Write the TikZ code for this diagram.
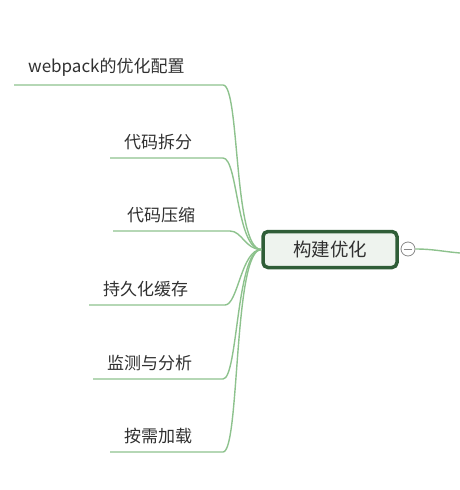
\documentclass[tikz,border=0pt]{standalone}
\usepackage{fontspec}
\setmainfont{Noto Sans CJK SC}
\usepackage{tikz}
\usetikzlibrary{positioning}
\definecolor{linkgreen}{HTML}{8DC28D}
\definecolor{rootgreen}{HTML}{2F5D37}
\definecolor{rootfill}{HTML}{EEF3EE}
\definecolor{labelgray}{HTML}{303030}
\definecolor{foldgray}{HTML}{888888}

\begin{document}
\begin{tikzpicture}[x=1pt,y=-1pt,
    topic/.style={shape=rectangle, anchor=south west, inner xsep=14pt, inner ysep=8pt,
      font=\fontsize{17}{17}\selectfont, text=labelgray},
    link/.style={draw=linkgreen, line width=1.4pt}]
    \useasboundingbox (0,0) rectangle (460,490);

    \node[shape=rectangle, rounded corners=5pt, draw=rootgreen, line width=3.5pt, fill=rootfill,
      minimum width=134pt, minimum height=36pt, text=labelgray,
      font=\fontsize{18.5}{18.5}\selectfont] (root) at (330,249.5) {构建优化};

    \node[shape=circle, draw=foldgray, line width=0.8pt, minimum size=14pt, inner sep=0pt] (fold) at (408,249) {};
    \draw[foldgray, line width=0.8pt] ([xshift=3pt]fold.west) -- ([xshift=-3pt]fold.east);
    \coordinate (tail) at (460,253);
    \path[link] (fold.east) edge[out=0, in=175] (tail);

    \node[topic] (webpack) at (14,85) {webpack的优化配置};
    \coordinate (webpackend) at (223,85);
    \draw[link] (webpack.south west) -- (webpackend) .. controls +(17,0) and +(-28,0) .. (root.west);

    \node[topic] (split) at (110,158) {代码拆分};
    \coordinate (splitend) at (223,158);
    \draw[link] (split.south west) -- (splitend) .. controls +(15,0) and +(-25,0) .. (root.west);

    \node[topic] (minify) at (113,231) {代码压缩};
    \coordinate (minifyend) at (230,231);
    \draw[link] (minify.south west) -- (minifyend) .. controls +(12,0) and +(-16,0) .. (root.west);

    \node[topic] (cache) at (89,305) {持久化缓存};
    \coordinate (cacheend) at (225,305);
    \draw[link] (cache.south west) -- (cacheend) .. controls +(13,0) and +(-20,0) .. (root.west);

    \node[topic] (monitor) at (93,379) {监测与分析};
    \coordinate (monitorend) at (223,379);
    \draw[link] (monitor.south west) -- (monitorend) .. controls +(15,0) and +(-25,0) .. (root.west);

    \node[topic] (lazy) at (110,452) {按需加载};
    \coordinate (lazyend) at (223,452);
    \draw[link] (lazy.south west) -- (lazyend) .. controls +(17,0) and +(-28,0) .. (root.west);

  \end{tikzpicture}
\end{document}
